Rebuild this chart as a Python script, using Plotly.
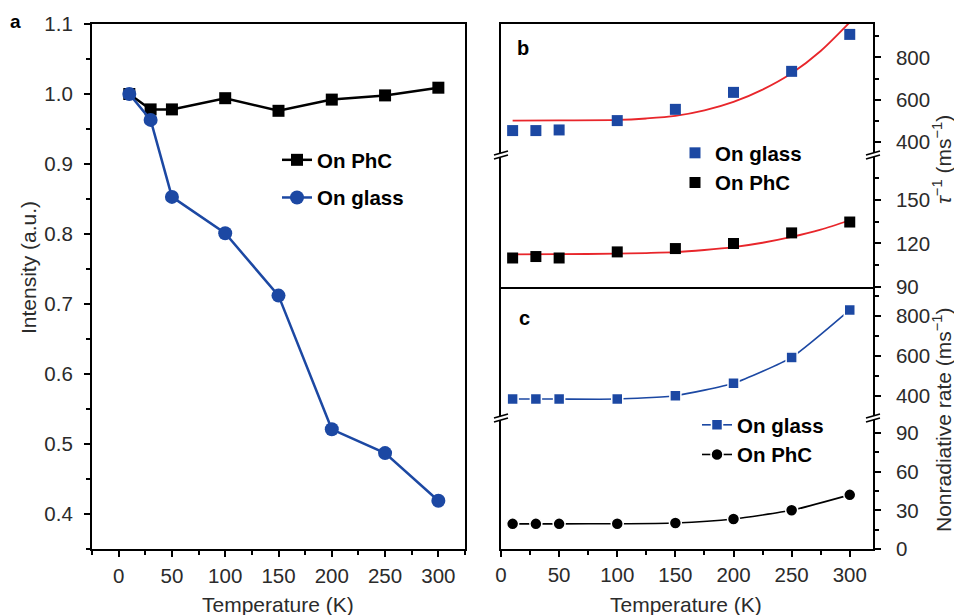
import plotly.graph_objects as go

# ---------------- data ----------------
T = [10, 30, 50, 100, 150, 200, 250, 300]
int_phc = [1.0, 0.978, 0.978, 0.994, 0.976, 0.992, 0.998, 1.009]
int_glass = [1.0, 0.963, 0.853, 0.801, 0.712, 0.521, 0.487, 0.419]

rate_glass = [455, 455, 458, 502, 555, 635, 734, 908]
rate_phc = [110, 111, 110, 114.2, 116.5, 120, 127.3, 134.8]

fit_T = [10, 50, 100, 125, 150, 175, 200, 225, 250, 275, 300]
fit_glass = [502, 503, 505, 512, 524, 550, 590, 648, 725, 830, 965]
fit_phc = [112.5, 112.6, 113, 113.4, 114, 115.5, 117.5, 120.5, 124.5, 129.5, 136]

nr_glass = [383, 383, 383, 383, 400, 462, 592, 830]
nr_phc = [19.5, 19.5, 19.5, 19.6, 20.2, 23.3, 30, 42]

x_ticks = [0, 50, 100, 150, 200, 250, 300]

# ---------------- style ----------------
W, H = 954, 615
BLUE = "#1c48a3"
RED = "#e8262b"
FONT = "Liberation Sans, Arial, sans-serif"
TICKC = "#2b2b2b"


def px(x):
    return x / W


def py(y):
    return 1 - y / H


fig = go.Figure()

# panel a
fig.add_trace(go.Scatter(x=T, y=int_phc, mode="lines+markers", name="<b>On PhC</b>",
                         line=dict(color="black", width=2.5),
                         marker=dict(symbol="square", size=12, color="black"),
                         xaxis="x", yaxis="y", legend="legend", legendgroup="a1"))
fig.add_trace(go.Scatter(x=T, y=int_glass, mode="lines+markers", name="<b>On glass</b>",
                         line=dict(color=BLUE, width=2.5),
                         marker=dict(symbol="circle", size=14, color=BLUE),
                         xaxis="x", yaxis="y", legend="legend", legendgroup="a2"))

# panel b
fig.add_trace(go.Scatter(x=fit_T, y=fit_glass, mode="lines", showlegend=False,
                         line=dict(color=RED, width=1.8, shape="spline", smoothing=0.8),
                         xaxis="x2", yaxis="y2"))
fig.add_trace(go.Scatter(x=T, y=rate_glass, mode="markers", name="<b>On glass</b>",
                         marker=dict(symbol="square", size=11, color=BLUE),
                         xaxis="x2", yaxis="y2", legend="legend2", legendgroup="b1"))
fig.add_trace(go.Scatter(x=fit_T, y=fit_phc, mode="lines", showlegend=False,
                         line=dict(color=RED, width=1.8, shape="spline", smoothing=0.8),
                         xaxis="x3", yaxis="y3"))
fig.add_trace(go.Scatter(x=T, y=rate_phc, mode="markers", name="<b>On PhC</b>",
                         marker=dict(symbol="square", size=11, color="black"),
                         xaxis="x3", yaxis="y3", legend="legend2", legendgroup="b2"))

# panel c
fig.add_trace(go.Scatter(x=T, y=nr_glass, mode="lines+markers", name="<b>On glass</b>",
                         line=dict(color=BLUE, width=1.6, shape="spline", smoothing=0.5),
                         marker=dict(symbol="square", size=11, color=BLUE,
                                     line=dict(color="white", width=1.5)),
                         xaxis="x4", yaxis="y4", legend="legend3", legendgroup="c1"))
fig.add_trace(go.Scatter(x=T, y=nr_phc, mode="lines+markers", name="<b>On PhC</b>",
                         line=dict(color="black", width=1.6, shape="spline", smoothing=0.5),
                         marker=dict(symbol="circle", size=12, color="black",
                                     line=dict(color="white", width=1.5)),
                         xaxis="x5", yaxis="y5", legend="legend3", legendgroup="c2"))

tickfont = dict(family=FONT, size=20.5, color=TICKC)

# domains
xa_dom = [px(92), px(465)]
ya_dom = [py(549), py(24)]
xr_dom = [px(501), px(873)]
yb_up = [py(155), py(24)]
yb_lo = [py(287), py(155)]
yc_up = [py(417), py(287)]
yc_lo = [py(549), py(417)]

common_axis = dict(showgrid=False, zeroline=False, linecolor="black", tickcolor="black",
                   tickfont=tickfont, automargin=False)

fig.update_layout(
    width=W, height=H,
    margin=dict(l=0, r=0, t=0, b=0, pad=0, autoexpand=False),
    paper_bgcolor="white", plot_bgcolor="white",
    font=dict(family=FONT, color="black"),
    xaxis=dict(domain=xa_dom, anchor="y", range=[-25, 325], tickvals=x_ticks,
               ticks="outside", ticklen=6, tickwidth=2, showline=True, linewidth=2.2,
               mirror=True, ticklabelstandoff=1,
               minor=dict(dtick=25, tick0=0, ticks="outside", ticklen=4, tickwidth=2,
                          tickcolor="black"),
               **common_axis),
    yaxis=dict(domain=ya_dom, anchor="x", range=[0.35, 1.1], dtick=0.1, tick0=0,
               tickformat=".1f", ticks="outside", ticklen=6, tickwidth=2,
               showline=True, linewidth=2.2, mirror=True, ticklabelstandoff=7,
               minor=dict(dtick=0.05, tick0=0, ticks="outside", ticklen=4, tickwidth=2,
                          tickcolor="black"),
               **common_axis),
    xaxis2=dict(domain=xr_dom, anchor="y2", side="top", range=[0, 320], showline=True,
                linewidth=1.6, showticklabels=False, ticks="", **common_axis),
    xaxis3=dict(domain=xr_dom, anchor="y3", range=[0, 320], showline=True,
                linewidth=1.6, showticklabels=False, ticks="", **common_axis),
    xaxis4=dict(domain=xr_dom, anchor="y4", range=[0, 320], showline=False,
                showticklabels=False, ticks="", **common_axis),
    xaxis5=dict(domain=xr_dom, anchor="y5", range=[0, 320], showline=True,
                linewidth=1.6, tickvals=x_ticks, ticks="outside", ticklen=6, tickwidth=1.6,
                ticklabelstandoff=1,
                minor=dict(dtick=25, tick0=0, ticks="outside", ticklen=4, tickwidth=1.6,
                           tickcolor="black"),
                **common_axis),
)

ry = dict(side="right", showline=True, mirror=True, linewidth=1.6, ticks="outside",
          ticklen=6, tickwidth=1.6, ticklabelstandoff=11, **common_axis)
fig.update_layout(
    yaxis2=dict(domain=yb_up, anchor="x2", range=[340, 957], tickvals=[400, 600, 800],
                minor=dict(tickvals=[500, 700, 900], ticks="outside", ticklen=4,
                           tickwidth=1.6, tickcolor="black"), **ry),
    yaxis3=dict(domain=yb_lo, anchor="x3", range=[90, 181], tickvals=[90, 120, 150],
                minor=dict(tickvals=[105, 135, 165], ticks="outside", ticklen=4,
                           tickwidth=1.6, tickcolor="black"), **ry),
    yaxis4=dict(domain=yc_up, anchor="x4", range=[293, 945], tickvals=[400, 600, 800],
                minor=dict(tickvals=[500, 700, 900], ticks="outside", ticklen=4,
                           tickwidth=1.6, tickcolor="black"), **ry),
    yaxis5=dict(domain=yc_lo, anchor="x5", range=[0, 102.4], tickvals=[0, 30, 60, 90],
                minor=dict(tickvals=[15, 45, 75], ticks="outside", ticklen=4,
                           tickwidth=1.6, tickcolor="black"), **ry),
)

legfont = dict(family=FONT, size=20.5, color="black")
fig.update_layout(
    legend=dict(x=px(277), y=py(140), xanchor="left", yanchor="top", font=legfont,
                bgcolor="rgba(0,0,0,0)", tracegroupgap=8),
    legend2=dict(x=px(675), y=py(133), xanchor="left", yanchor="top", font=legfont,
                 bgcolor="rgba(0,0,0,0)", tracegroupgap=0),
    legend3=dict(x=px(697), y=py(405), xanchor="left", yanchor="top", font=legfont,
                 bgcolor="rgba(0,0,0,0)", tracegroupgap=0),
)

# break marks
shapes = []
for (cx, cy) in [(501, 155), (873, 155), (501, 418), (873, 418)]:
    shapes.append(dict(type="rect", xref="paper", yref="paper",
                       x0=px(cx - 3), x1=px(cx + 3), y0=py(cy + 2), y1=py(cy - 2),
                       fillcolor="white", line=dict(width=0), layer="above"))
    for dy in (-2, 2):
        shapes.append(dict(type="line", xref="paper", yref="paper",
                           x0=px(cx - 7), y0=py(cy + dy + 2), x1=px(cx + 7), y1=py(cy + dy - 2),
                           line=dict(color="black", width=1.6), layer="above"))
fig.update_layout(shapes=shapes)

annos = [
    dict(text="<b>a</b>", x=px(15), y=py(21), font=dict(family=FONT, size=19, color="black")),
    dict(text="<b>b</b>", x=px(523), y=py(48), font=dict(family=FONT, size=20, color="black")),
    dict(text="<b>c</b>", x=px(524), y=py(318), font=dict(family=FONT, size=20, color="black")),
    dict(text="Temperature (K)", x=px(278), y=py(604), font=dict(family=FONT, size=21, color=TICKC)),
    dict(text="Temperature (K)", x=px(686), y=py(604), font=dict(family=FONT, size=21, color=TICKC)),
    dict(text="Intensity (a.u.)", x=px(28), y=py(268), textangle=-90,
         font=dict(family=FONT, size=21, color=TICKC)),
    dict(text="<i>τ</i><sup>−1</sup> (ms<sup>−1</sup>)", x=px(942), y=py(160), textangle=-90,
         font=dict(family=FONT, size=21, color=TICKC)),
    dict(text="Nonradiative rate (ms<sup>−1</sup>)", x=px(942), y=py(420), textangle=-90,
         font=dict(family=FONT, size=21, color=TICKC)),
]
for a in annos:
    a.update(xref="paper", yref="paper", showarrow=False, xanchor="center", yanchor="middle")
fig.update_layout(annotations=annos)

fig.write_html("out.html")
